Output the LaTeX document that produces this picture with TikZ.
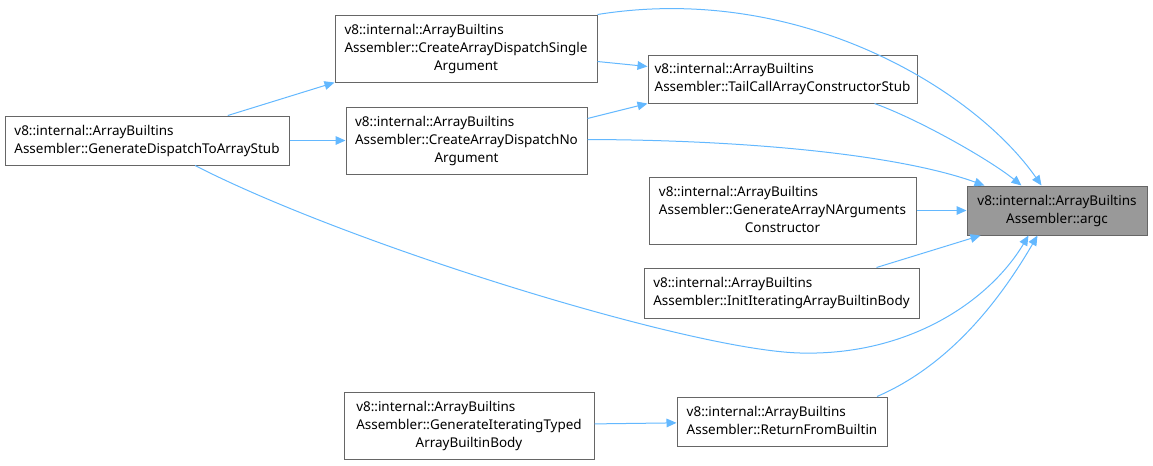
\documentclass[tikz,border=0pt]{standalone}
\usepackage{fontspec}
\setmainfont{Noto Sans}
\usetikzlibrary{arrows.meta,calc}
\definecolor{edgeblue}{HTML}{63B8FF}
\definecolor{boxgray}{HTML}{666666}
\definecolor{hubfill}{HTML}{999999}
\tikzset{
	fn/.style={draw=boxgray, line width=0.75pt, fill=white, rectangle, inner sep=0pt,
		font=\fontsize{10.1}{13.5}\selectfont},
	hub/.style={fn, fill=hubfill},
	wh/.style 2 args={minimum width=#1*0.75pt, minimum height=#2*0.75pt},
	call/.style={draw=edgeblue, line width=0.75pt, -{Triangle[length=7.5pt,width=6.5pt]}},
}
% all lines left aligned, the last one centred
\newcommand{\fnlabel}[1]{\begin{tabular}{@{}l@{}}#1\end{tabular}}
\newcommand{\lastln}[1]{\multicolumn{1}{@{}c@{}}{#1}}

\begin{document}
\begin{tikzpicture}[x=0.75pt, y=-0.75pt]
	\useasboundingbox (0,0) rectangle (1153,465);

	% callers, left column
	\node[fn, wh={284}{49}] (A) at (147,140.5)
		{\fnlabel{v8::internal::ArrayBuiltins\\Assembler::GenerateDispatchToArrayStub}};
	% middle column
	\node[fn, wh={262}{67}] (B) at (466,48.5)
		{\fnlabel{v8::internal::ArrayBuiltins\\Assembler::CreateArrayDispatchSingle\\\lastln{Argument}}};
	\node[fn, wh={241}{67}] (C) at (466.5,140.5)
		{\fnlabel{v8::internal::ArrayBuiltins\\Assembler::CreateArrayDispatchNo\\\lastln{Argument}}};
	\node[fn, wh={250}{67}] (G) at (469,425.5)
		{\fnlabel{v8::internal::ArrayBuiltins\\Assembler::GenerateIteratingTyped\\\lastln{ArrayBuiltinBody}}};
	% right column
	\node[fn, wh={269}{48}] (D) at (782.5,79)
		{\fnlabel{v8::internal::ArrayBuiltins\\Assembler::TailCallArrayConstructorStub}};
	\node[fn, wh={267}{67}] (E) at (782.5,210.5)
		{\fnlabel{v8::internal::ArrayBuiltins\\Assembler::GenerateArrayNArguments\\\lastln{Constructor}}};
	\node[fn, wh={275}{50}] (F) at (781.5,293)
		{\fnlabel{v8::internal::ArrayBuiltins\\Assembler::InitIteratingArrayBuiltinBody}};
	\node[fn, wh={210}{49}] (H) at (782,421.5)
		{\fnlabel{v8::internal::ArrayBuiltins\\Assembler::ReturnFromBuiltin}};
	% the callee
	\node[hub, wh={180}{49}] (T) at (1057,210.5)
		{\fnlabel{v8::internal::ArrayBuiltins\\\lastln{Assembler::argc}}};

	\coordinate (dip) at (800,353);

	% calls between callers
	\draw[call] (A) -- (B.south west);
	\draw[call] (A) -- (C);
	\draw[call] ($(B.east)+(0,13)$) -- ($(D.north west)+(0,12)$);
	\draw[call] ($(C.east)+(0,-22)$) -- (D.south west);
	\draw[call] (G) -- (H);

	% calls into argc
	\draw[call] (B.north east) .. controls (800,-18) and (975,90) .. ($(T.north west)+(75,0)$);
	\draw[call] ($(C.east)+(0,-1)$) .. controls (750,140) and (900,155) .. ($(T.north west)+(18,0)$);
	\draw[call] ($(D.south)+(92,0)$) .. controls (920,120) and (990,160) .. ($(T.north west)+(55,0)$);
	\draw[call] (E) -- (T);
	\draw[call] ($(F.north)+(95,0)$) -- ($(T.south west)+(14,0)$);
	\draw[call] ($(A.south)+(48,0)$) .. controls (350,245) and (690,350) .. (dip)
		.. controls (910,356) and (990,300) .. ($(T.south west)+(62,0)$);
	\draw[call] ($(H.north)+(95,0)$) .. controls (950,365) and (1000,300) .. ($(T.south west)+(71,0)$);
\end{tikzpicture}
\end{document}
